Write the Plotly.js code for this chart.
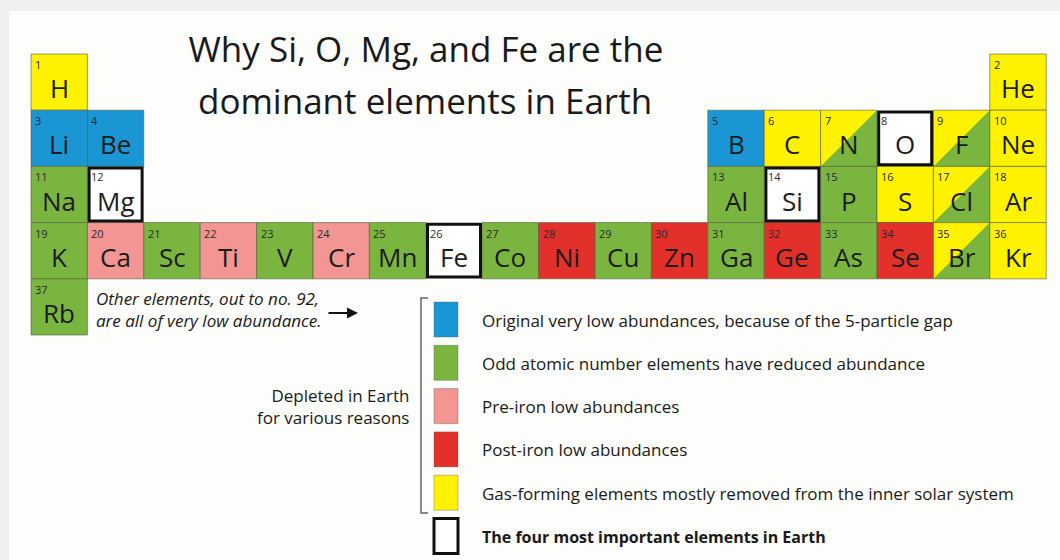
<!DOCTYPE html>
<html>
<head>
<meta charset="utf-8">
<script src="https://cdn.plot.ly/plotly-3.0.1.min.js"></script>
<style>html,body{margin:0;padding:0;background:#efefef;}#chart{width:1060px;height:560px;}</style>
</head>
<body>
<div id="chart"></div>
<script>
// ---- data ----
const symbols = ['H','He','Li','Be','B','C','N','O','F','Ne','Na','Mg','Al','Si','P','S','Cl','Ar',
  'K','Ca','Sc','Ti','V','Cr','Mn','Fe','Co','Ni','Cu','Zn','Ga','Ge','As','Se','Br','Kr','Rb'];
const atomicNumbers = [1,2,3,4,5,6,7,8,9,10,11,12,13,14,15,16,17,18,
  19,20,21,22,23,24,25,26,27,28,29,30,31,32,33,34,35,36,37];
const groups = [1,18,1,2,13,14,15,16,17,18,1,2,13,14,15,16,17,18,
  1,2,3,4,5,6,7,8,9,10,11,12,13,14,15,16,17,18,1];
const periods = [1,1,2,2,2,2,2,2,2,2,3,3,3,3,3,3,3,3,
  4,4,4,4,4,4,4,4,4,4,4,4,4,4,4,4,4,4,5];
const categories = ['gas','gas','gap','gap','gap','gas','gasodd','key','gasodd','gas','odd','key','odd','key','odd','gas','gasodd','gas',
  'odd','pre','odd','pre','odd','pre','odd','key','odd','post','odd','post','odd','post','odd','post','gasodd','gas','odd'];

const legendKeys = ['gap','odd','pre','post','gas','key'];
const legendLabels = [
  'Original very low abundances, because of the 5-particle gap',
  'Odd atomic number elements have reduced abundance',
  'Pre-iron low abundances',
  'Post-iron low abundances',
  'Gas-forming elements mostly removed from the inner solar system',
  '<b>The four most important elements in Earth</b>'
];
const titleLines = ['Why Si, O, Mg, and Fe are the', 'dominant elements in Earth'];
const noteText = '<i>Other elements, out to no. 92,<br>are all of very low abundance.</i>';
const bracketText = 'Depleted in Earth<br>for various reasons';

// ---- styles ----
const colors = {gas:'#FFF200', gap:'#1A96D4', odd:'#7AB540', pre:'#F29593', post:'#E3302B', key:'#FFFFFF'};
const FONT = 'Open Sans, Noto Sans, sans-serif';
const W = 1060, H = 560;
const px = x => x / W;
const py = y => 1 - y / H;

const shapes = [];
const annotations = [];

// card background
shapes.push({type:'rect', xref:'paper', yref:'paper', x0:px(9), x1:1, y0:0, y1:py(11),
  fillcolor:'#fdfdfb', line:{width:0}, layer:'below'});

const cellLine = {color:'rgba(85,95,60,0.6)', width:1};

// cells
for (let i = 0; i < symbols.length; i++) {
  const g = groups[i], p = periods[i], c = categories[i];
  if (c === 'gasodd') {
    shapes.push({type:'rect', xref:'x', yref:'y', x0:g-0.5, x1:g+0.5, y0:p-0.5, y1:p+0.5,
      fillcolor:colors.gas, line:{width:0}});
    shapes.push({type:'path', xref:'x', yref:'y',
      path:`M ${g-0.5},${p+0.5} L ${g+0.5},${p-0.5} L ${g+0.5},${p+0.5} Z`,
      fillcolor:colors.odd, line:{width:0}});
    shapes.push({type:'rect', xref:'x', yref:'y', x0:g-0.5, x1:g+0.5, y0:p-0.5, y1:p+0.5,
      fillcolor:'rgba(0,0,0,0)', line:cellLine});
  } else if (c !== 'key') {
    shapes.push({type:'rect', xref:'x', yref:'y', x0:g-0.5, x1:g+0.5, y0:p-0.5, y1:p+0.5,
      fillcolor:colors[c], line:cellLine});
  }
}
for (let i = 0; i < symbols.length; i++) {
  if (categories[i] !== 'key') continue;
  const g = groups[i], p = periods[i];
  shapes.push({type:'rect', xref:'x', yref:'y', x0:g-0.47, x1:g+0.47, y0:p-0.47, y1:p+0.47,
    fillcolor:'#ffffff', line:{color:'#111', width:3}});
}
for (let i = 0; i < symbols.length; i++) {
  const g = groups[i], p = periods[i];
  annotations.push({x:g, y:p, xref:'x', yref:'y', text:symbols[i], showarrow:false,
    yshift:-6, borderpad:0, font:{family:FONT, size:26, color:'#1c1c1c'}});
  annotations.push({x:g-0.5, y:p-0.5, xref:'x', yref:'y', text:String(atomicNumbers[i]), showarrow:false,
    xanchor:'left', yanchor:'top', xshift:3, yshift:-2, borderpad:0, font:{family:FONT, size:11, color:'#2a2a2a'}});
}

// title second line
annotations.push({xref:'paper', yref:'paper', x:px(425), y:py(100), text:titleLines[1], showarrow:false,
  xanchor:'center', yanchor:'middle', font:{family:FONT, size:35, color:'#1a1a1a'}});

// note + arrow
annotations.push({xref:'paper', yref:'paper', x:px(94), y:py(309), text:noteText, showarrow:false,
  xanchor:'left', yanchor:'middle', align:'left', font:{family:FONT, size:17, color:'#1a1a1a'}});
annotations.push({xref:'paper', yref:'paper', x:px(358), y:py(313), axref:'pixel', ayref:'pixel',
  ax:-31, ay:0, text:'', showarrow:true, arrowhead:2, arrowsize:1.1, arrowwidth:2, arrowcolor:'#111'});

// bracket
shapes.push({type:'path', xref:'paper', yref:'paper',
  path:`M ${px(428)},${py(298)} L ${px(421)},${py(298)} L ${px(421)},${py(513)} L ${px(428)},${py(513)}`,
  line:{color:'#666', width:1.5}});
annotations.push({xref:'paper', yref:'paper', x:px(411), y:py(406), text:bracketText, showarrow:false,
  xanchor:'right', yanchor:'middle', align:'right', font:{family:FONT, size:17, color:'#1a1a1a'}});

// legend
for (let k = 0; k < legendKeys.length; k++) {
  const top = 302 + k * 43.3;
  const key = legendKeys[k];
  shapes.push({type:'rect', xref:'paper', yref:'paper', x0:px(434), x1:px(458), y0:py(top+35), y1:py(top),
    fillcolor:colors[key], line: key === 'key' ? {color:'#111', width:3} : {color:'rgba(80,80,80,0.35)', width:1}});
  annotations.push({xref:'paper', yref:'paper', x:px(480), y:py(top+18), text:legendLabels[k], showarrow:false,
    xanchor:'left', yanchor:'middle', font:{family:FONT, size: key === 'key' ? 16 : 17, color:'#1a1a1a'}});
}

// axes map group/period to the page
const cellW = 56.4, cellH = 56.2, x1c = 59.2, y1c = 82.1;
const xr = [1 - x1c / cellW, 1 + (W - x1c) / cellW];
const yr = [1 + (H - y1c) / cellH, 1 - y1c / cellH];

const layout = {
  width: W, height: H,
  margin: {l:0, r:0, t:0, b:0, pad:0},
  paper_bgcolor: '#efefef',
  plot_bgcolor: 'rgba(0,0,0,0)',
  title: {text: titleLines[0], x: px(426), xanchor: 'center', y: py(50), yanchor: 'middle',
    font: {family: FONT, size: 35, color: '#1a1a1a'}},
  xaxis: {range: xr, visible: false, fixedrange: true},
  yaxis: {range: yr, visible: false, fixedrange: true},
  showlegend: false,
  shapes: shapes,
  annotations: annotations
};

Plotly.newPlot('chart', [{x:[], y:[], type:'scatter', mode:'markers', hoverinfo:'skip'}], layout,
  {staticPlot: true, displayModeBar: false});
</script>
</body>
</html>
